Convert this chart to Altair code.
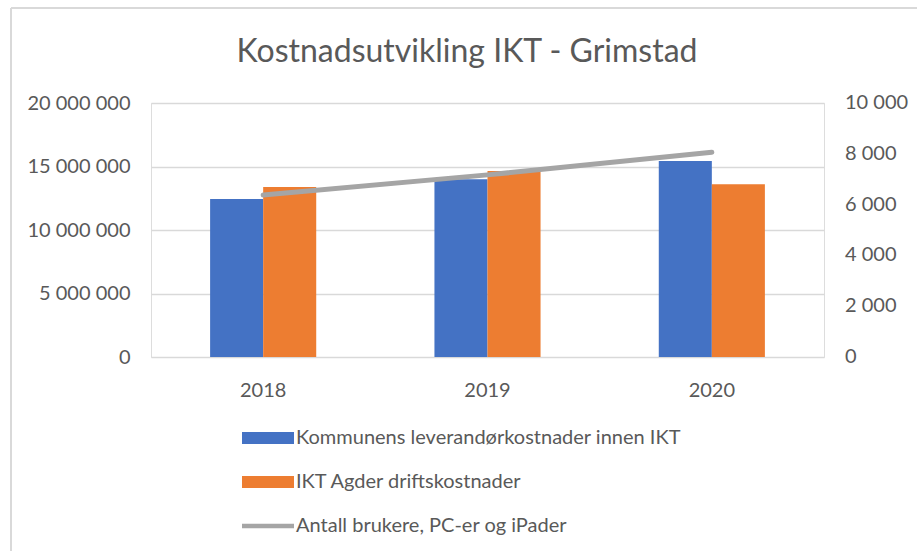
import altair as alt
import pandas as pd

years = ["2018", "2019", "2020"]
kommune = [12_440_000, 13_990_000, 15_430_000]
ikt_agder = [13_390_000, 14_650_000, 13_600_000]
brukere = [6380, 7170, 8060]
series_names = [
    "Kommunens leverandørkostnader innen IKT",
    "IKT Agder driftskostnader",
    "Antall brukere, PC-er og iPader",
]
colors = ["#4472C4", "#ED7D31", "#A5A5A5"]
left_ticks = [0, 5_000_000, 10_000_000, 15_000_000, 20_000_000]
right_ticks = [0, 2000, 4000, 6000, 8000, 10000]
right_labels = ["0", "2 000", "4 000", "6 000", "8 000", "10 000"]
title_text = "Kostnadsutvikling IKT - Grimstad"

bars_df = pd.DataFrame({
    "year": years * 2,
    "value": kommune + ikt_agder,
    "series": [series_names[0]] * 3 + [series_names[1]] * 3,
})
line_df = pd.DataFrame({"year": years, "value": brukere})
right_df = pd.DataFrame({"value": right_ticks, "label": right_labels})

W, H = 673, 254
PL, PT = 151, 103
FONT = "Lato"
TXT = "#595959"
GRID = "#d9d9d9"

space_fmt = "replace(replace(format(datum.value, ','), ',', ' '), ',', ' ')"
RECT_PATH = "M-1,-0.23H1V0.23H-1Z"
LINE_PATH = "M-1,-0.09H1V0.09H-1Z"


def build(use_expr=True):
    x_enc = alt.X(
        "year:N",
        scale=alt.Scale(paddingInner=0.527, paddingOuter=0.2635),
        axis=alt.Axis(title=None, labelAngle=0, domain=False, ticks=False, grid=False,
                      labelPadding=23, labelFont=FONT, labelFontSize=20, labelColor=TXT),
    )
    if use_expr:
        sym = alt.ExprRef(expr="datum.value === '%s' ? '%s' : '%s'"
                          % (series_names[2], LINE_PATH, RECT_PATH))
    else:
        sym = RECT_PATH
    legend_kw = dict(
        title=None, orient="none", legendX=91, legendY=309, direction="vertical",
        symbolType=sym, symbolSize=2704, symbolStrokeWidth=0,
        labelFont=FONT, labelFontSize=20, labelColor=TXT, labelOffset=2,
        rowPadding=8, padding=0, labelLimit=600,
    )

    bars = alt.Chart(bars_df).mark_bar().encode(
        x=x_enc,
        xOffset=alt.XOffset("series:N", sort=series_names[:2],
                            scale=alt.Scale(paddingInner=0, paddingOuter=0)),
        y=alt.Y(
            "value:Q",
            scale=alt.Scale(domain=[0, 20_000_000], nice=False),
            axis=alt.Axis(orient="left", title=None, values=left_ticks, labelExpr=space_fmt,
                          grid=True, gridColor=GRID, gridWidth=1.5, domain=False, ticks=False,
                          labelPadding=21, labelFont=FONT, labelFontSize=20, labelColor=TXT),
        ),
        color=alt.Color(
            "series:N",
            scale=alt.Scale(domain=series_names, range=colors),
            legend=alt.Legend(**legend_kw),
        ),
    )

    right_scale = alt.Scale(domain=[0, 10000], nice=False)
    line = alt.Chart(line_df).mark_line(color="#A5A5A5", strokeWidth=5, strokeCap="round").encode(
        x=x_enc,
        y=alt.Y("value:Q", scale=right_scale, axis=None),
    )
    right_axis_labels = alt.Chart(right_df).mark_text(
        align="left", baseline="middle", font=FONT, fontSize=20, color=TXT,
    ).encode(
        x=alt.value(W + 21),
        y=alt.Y("value:Q", scale=right_scale, axis=None),
        text="label:N",
    )

    frame_df = pd.DataFrame({"k": [0]})
    border_left = alt.Chart(frame_df).mark_rule(color=GRID, strokeWidth=2).encode(
        x=alt.value(11 - PL), y=alt.value(8 - PT), y2=alt.value(551 - PT)
    )
    border_top = alt.Chart(frame_df).mark_rule(color=GRID, strokeWidth=2).encode(
        x=alt.value(11 - PL), x2=alt.value(917 - PL), y=alt.value(8 - PT)
    )
    title = alt.Chart(frame_df).mark_text(
        text=title_text, font=FONT, fontSize=32, color=TXT, align="center",
        baseline="alphabetic",
    ).encode(x=alt.value(467 - PL), y=alt.value(62 - PT))

    right_layer = alt.layer(line, right_axis_labels)
    return (
        alt.layer(bars, right_layer, border_left, border_top, title)
        .resolve_scale(y="independent")
        .properties(
            width=W, height=H,
            autosize=alt.AutoSizeParams(type="none"),
            padding={"left": PL, "top": PT, "right": 917 - PL - W, "bottom": 551 - PT - H},
        )
        .configure_view(stroke="transparent", strokeWidth=0)
        .configure_axis(domain=False)
        .configure(background="white")
    )


try:
    chart = build(True)
    chart.to_dict()
except Exception:
    chart = build(False)

chart.save("out.html", embed_options={"renderer": "svg", "actions": False})
